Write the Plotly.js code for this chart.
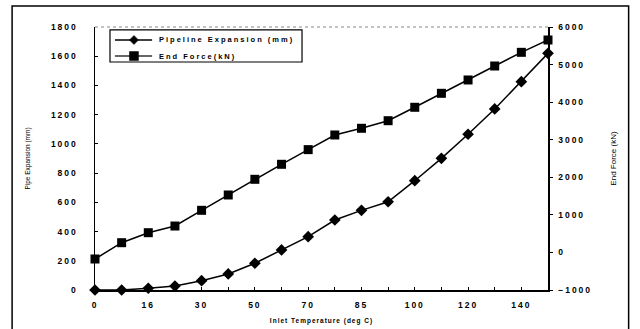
<!DOCTYPE html>
<html><head><meta charset="utf-8">
<script src="https://cdn.plot.ly/plotly-3.0.1.min.js"></script>
<style>
html,body{margin:0;padding:0;background:#fff;}
#chart{width:640px;height:329px;}
svg text{letter-spacing:2px;}
</style></head>
<body><div id="chart"></div>
<script>
// Inlet temperature categories (deg C)
const temps = ['0','8','16','23','30','40','50','60','70','80','85','92','100','110','120','130','140','150'];
const labeledTemps = ['0','16','30','50','70','85','100','120','140'];
// Pipeline expansion (mm)
const expansion = [0,0,12,27,64,110,183,274,365,479,545,604,748,901,1066,1239,1426,1620];
// End force (kN)
const endForce = [-175,259,525,703,1121,1529,1946,2346,2736,3126,3304,3506,3863,4235,4590,4962,5326,5654];
const leftTicks = [0,200,400,600,800,1000,1200,1400,1600,1800];
const rightTicks = [-1000,0,1000,2000,3000,4000,5000,6000];
const seriesNames = ['Pipeline Expansion (mm)', 'End Force(kN)'];

const tickText = temps.map(t => labeledTemps.includes(t) ? t : '');
const fontFam = '"Liberation Sans", Arial, sans-serif';

const traces = [
  {x: temps, y: expansion, name: seriesNames[0], type: 'scatter', mode: 'lines+markers',
   line: {color: '#000', width: 1.5}, marker: {symbol: 'diamond', size: 9, color: '#000'},
   cliponaxis: false, yaxis: 'y'},
  {x: temps, y: endForce, name: seriesNames[1], type: 'scatter', mode: 'lines+markers',
   line: {color: '#000', width: 1.5}, marker: {symbol: 'square', size: 9, color: '#000'},
   cliponaxis: false, yaxis: 'y2'}
];

// manual legend (compact box like the reference)
const lgX0 = 0.0331, lgX1 = 0.457, lgY0 = 0.867, lgY1 = 0.989;
const rowY = [0.9506, 0.8897];
const symX0 = 0.044, symX1 = 0.126, symXc = 0.086, txtX = 0.137;
const legendShapes = [
  {type: 'rect', xref: 'paper', yref: 'paper', x0: lgX0, x1: lgX1, y0: lgY0, y1: lgY1,
   line: {color: '#000', width: 1.2}, fillcolor: '#fff', layer: 'above'}
];
rowY.forEach((yy, i) => {
  legendShapes.push({type: 'line', xref: 'paper', yref: 'paper', x0: symX0, x1: symX1, y0: yy, y1: yy,
    line: {color: i === 0 ? '#000' : '#333', width: 1.3}, layer: 'above'});
  legendShapes.push({type: 'path', xref: 'paper', yref: 'paper', xsizemode: 'pixel', ysizemode: 'pixel',
    xanchor: symXc, yanchor: yy,
    path: i === 0 ? 'M0,4.5 L4.5,0 L0,-4.5 L-4.5,0 Z' : 'M-4.5,-4.5 L4.5,-4.5 L4.5,4.5 L-4.5,4.5 Z',
    fillcolor: '#000', line: {color: '#000', width: 0.5}, layer: 'above'});
});
const legendAnn = seriesNames.map((n, i) => ({
  xref: 'paper', yref: 'paper', x: txtX, y: rowY[i], xanchor: 'left', yanchor: 'middle',
  text: n, showarrow: false, font: {family: fontFam, size: 7.5, color: '#000', weight: 700}
}));

const layout = {
  width: 640, height: 329,
  margin: {l: 95, r: 92, t: 27, b: 39},
  paper_bgcolor: '#fff', plot_bgcolor: '#fff',
  showlegend: false,
  xaxis: {type: 'category', range: [0, temps.length - 1], tickmode: 'array',
          tickvals: temps, ticktext: tickText, ticks: 'inside', ticklen: 3, tickcolor: '#000',
          showline: true, linecolor: '#000', linewidth: 1.5, showgrid: false, zeroline: false,
          ticklabelstandoff: 6,
          tickfont: {family: fontFam, size: 8.5, color: '#000', weight: 700},
          title: {text: '<span style="letter-spacing:1px">Inlet Temperature (deg C)</span>', standoff: 9,
                  font: {family: fontFam, size: 6.5, color: '#000', weight: 700}}},
  yaxis: {range: [0, 1800], tickmode: 'array', tickvals: leftTicks, ticks: 'inside', ticklen: 3,
          tickcolor: '#000', showline: true, linecolor: '#000', linewidth: 1.5, showgrid: false,
          zeroline: false, ticklabelstandoff: 14,
          tickfont: {family: fontFam, size: 8.5, color: '#000', weight: 700},
          title: {text: '<span style="letter-spacing:0px">Pipe Expansion (mm)</span>', standoff: 19,
                  font: {family: fontFam, size: 6.5, color: '#000'}}},
  yaxis2: {overlaying: 'y', side: 'right', range: [-1000, 6000], tickmode: 'array', tickvals: rightTicks,
           ticks: 'outside', ticklen: 3, tickcolor: '#000', showline: true, linecolor: '#000',
           linewidth: 1.5, showgrid: false, zeroline: false, ticklabelstandoff: 4,
           tickfont: {family: fontFam, size: 8.5, color: '#000', weight: 700},
           title: {text: '<span style="letter-spacing:0px">End Force (kN)</span>', standoff: 19,
                   font: {family: fontFam, size: 8, color: '#000'}}},
  shapes: [
    {type: 'line', xref: 'paper', yref: 'paper', x0: 0, x1: 1, y0: 1, y1: 1,
     line: {color: '#888', width: 1, dash: 'dot'}},
    {type: 'rect', xref: 'paper', yref: 'paper', x0: -0.183, x1: 1.178, y0: -0.3, y1: 1.08,
     line: {color: '#000', width: 1.5}, fillcolor: 'rgba(0,0,0,0)'}
  ].concat(legendShapes),
  annotations: legendAnn
};

Plotly.newPlot('chart', traces, layout, {staticPlot: true, displayModeBar: false});
</script></body></html>
